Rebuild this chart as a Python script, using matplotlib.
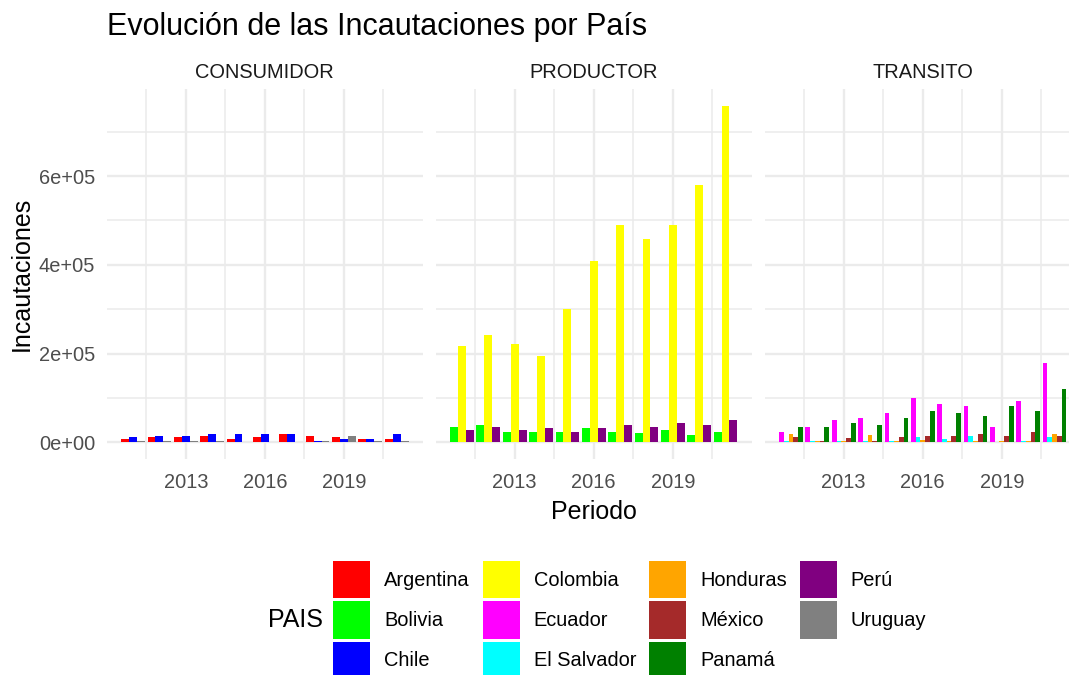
import matplotlib
matplotlib.use("Agg")
import matplotlib.pyplot as plt
from matplotlib.ticker import FixedLocator, FuncFormatter
import numpy as np

plt.rcParams['font.family'] = ['Liberation Sans', 'DejaVu Sans']

# ---------------- data ----------------
years = [2011, 2012, 2013, 2014, 2015, 2016, 2017, 2018, 2019, 2020, 2021]

facets = ["CONSUMIDOR", "PRODUCTOR", "TRANSITO"]

# CONSUMIDOR
argentina = [7600, 11400, 11400, 15100, 7600, 11400, 18900, 15100, 11400, 7600, 7600]
chile = [11400, 15100, 15100, 18900, 18900, 18900, 18900, 3800, 7600, 7600, 18900]
uruguay = [3800, 3800, 3800, 3800, 0, 0, 0, 3800, 15100, 3800, 3800]

# PRODUCTOR
bolivia = [35600, 39400, 24200, 24200, 24200, 31800, 24200, 20500, 28000, 16700, 24200]
colombia = [218000, 241000, 221000, 195000, 301000, 409000, 490000, 458000, 490000, 581000, 758000]
peru = [28000, 35600, 28000, 31800, 24200, 31800, 39400, 35600, 43200, 39400, 50800]

# TRANSITO
ecuador = [24200, 35600, 50700, 54500, 65900, 101000, 85900, 81300, 35000, 93500, 178600]
el_salvador = [3800, 3800, 3800, 3800, 3800, 11400, 7600, 15200, 0, 3800, 11400]
honduras = [20000, 3800, 3800, 16700, 3800, 5300, 3800, 3800, 3800, 3800, 19000]
mexico = [11400, 3800, 9100, 3800, 11400, 15200, 15200, 19800, 15200, 23600, 15200]
panama = [35600, 35600, 43100, 39400, 54500, 70700, 66100, 58500, 81300, 70700, 120800]

panel_series = {
    "CONSUMIDOR": [("Argentina", argentina), ("Chile", chile), ("Uruguay", uruguay)],
    "PRODUCTOR": [("Bolivia", bolivia), ("Colombia", colombia), ("Perú", peru)],
    "TRANSITO": [("Ecuador", ecuador), ("El Salvador", el_salvador), ("Honduras", honduras),
                 ("México", mexico), ("Panamá", panama)],
}

colors = {
    "Argentina": "#FF0000", "Bolivia": "#00FF00", "Chile": "#0000FF",
    "Colombia": "#FFFF00", "Ecuador": "#FF00FF", "El Salvador": "#00FFFF",
    "Honduras": "#FFA500", "México": "#A52A2A", "Panamá": "#008000",
    "Perú": "#800080", "Uruguay": "#808080",
}
legend_order = ["Argentina", "Bolivia", "Chile", "Colombia", "Ecuador", "El Salvador",
                "Honduras", "México", "Panamá", "Perú", "Uruguay"]

x_major = [2013, 2016, 2019]
x_minor = [2011.5, 2014.5, 2017.5, 2020.5]
y_major = [0, 200000, 400000, 600000]
y_minor = [100000, 300000, 500000, 700000]

# ---------------- layout ----------------
W, H = 1069, 675
fig = plt.figure(figsize=(W / 100, H / 100), dpi=100)
fig.patch.set_facecolor("white")

def fx(x):
    return x / W

def fy(y):
    return 1 - y / H

panel_top, panel_bot = 89.1, 459.3
panel_w = 316.3
lefts = [106.7, 435.6, 764.6]

all_y = [v for s in panel_series.values() for _, vals in s for v in vals]
ymax = max(all_y)
ylim = (-0.05 * ymax, 1.05 * ymax)
xlim = (2010.0, 2022.0)

grid_col = "#EBEBEB"
handles = {}
axes = []
for i, (facet, left) in enumerate(zip(facets, lefts)):
    ax = fig.add_axes([fx(left), fy(panel_bot), panel_w / W, (panel_bot - panel_top) / H])
    axes.append(ax)
    ax.set_facecolor("white")
    for sp in ax.spines.values():
        sp.set_visible(False)
    series = panel_series[facet]
    k = len(series)
    bw = 0.9 / k
    yrs = np.array(years, dtype=float)
    for j, (name, vals) in enumerate(series):
        off = (j - (k - 1) / 2) * bw
        bc = ax.bar(yrs + off, vals, width=bw, color=colors[name], label=name,
                    linewidth=0, zorder=3)
        handles[name] = bc
    ax.set_xlim(*xlim)
    ax.set_ylim(*ylim)
    ax.xaxis.set_major_locator(FixedLocator(x_major))
    ax.xaxis.set_minor_locator(FixedLocator(x_minor))
    ax.yaxis.set_major_locator(FixedLocator(y_major))
    ax.yaxis.set_minor_locator(FixedLocator(y_minor))
    ax.grid(which="major", color=grid_col, linewidth=1.7, zorder=0)
    ax.grid(which="minor", color=grid_col, linewidth=1.1, zorder=0)
    ax.set_axisbelow(True)
    ax.tick_params(which="both", length=0)
    ax.tick_params(axis="x", labelsize=14.4, labelcolor="#4D4D4D", pad=10.0)
    ax.tick_params(axis="y", labelsize=14.4, labelcolor="#4D4D4D", pad=8.2)
    if i == 0:
        ax.yaxis.set_major_formatter(FuncFormatter(lambda v, p: f"{v:.0e}"))
    else:
        ax.tick_params(axis="y", labelleft=False)
    fig.text(fx(left + panel_w / 2), fy(72), facet, ha="center", va="center",
             fontsize=14.4, color="#1A1A1A")

# titles
fig.text(fx(107), fy(35), "Evolución de las Incautaciones por País", ha="left",
         va="baseline", fontsize=22, color="black")
fig.text(fx((lefts[0] + lefts[2] + panel_w) / 2), fy(512), "Periodo", ha="center",
         va="center", fontsize=18, color="black")
fig.text(fx(22), fy((panel_top + panel_bot) / 2), "Incautaciones", ha="center",
         va="center", rotation=90, fontsize=18, color="black")

# legend
fig.text(fx(268), fy(620), "PAIS", ha="left", va="center", fontsize=18, color="black")
leg = fig.legend([handles[n] for n in legend_order], legend_order, ncol=4,
                 loc="center left", bbox_to_anchor=(fx(333), fy(620)),
                 frameon=False, fontsize=14.4, handlelength=1.85, handleheight=2.47,
                 labelspacing=0.15, handletextpad=0.7, columnspacing=0.65,
                 borderpad=0, borderaxespad=0)

fig.savefig("out.png", dpi=100, facecolor="white")
